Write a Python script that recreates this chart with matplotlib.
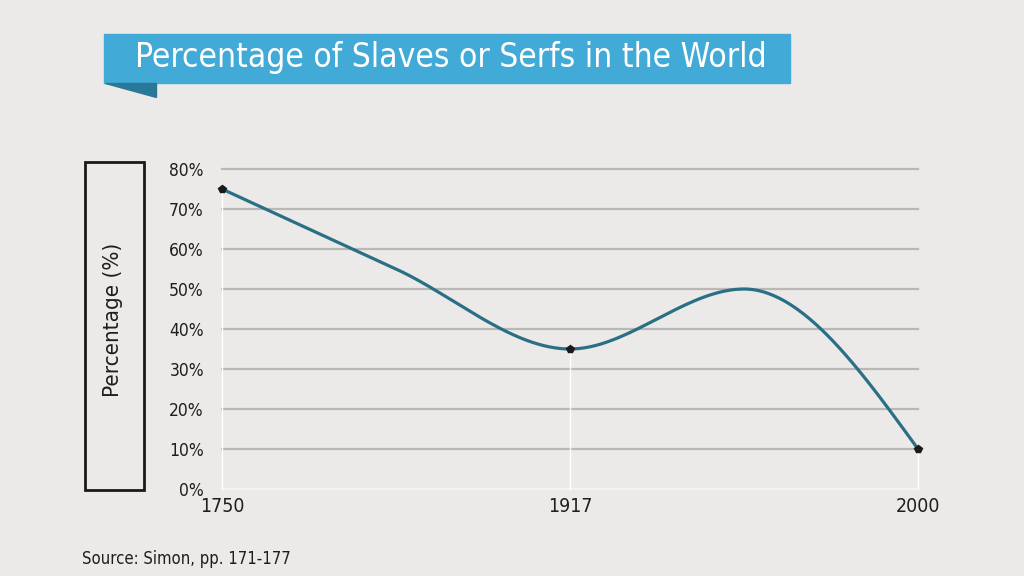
import numpy as np
import matplotlib
matplotlib.use("Agg")
import matplotlib.pyplot as plt
from matplotlib.patches import Rectangle, Polygon

# ---- data ----
years = ["1750", "", "1917", "", "2000"]          # "" = unlabeled intermediate knots
values = [75, 55, 35, 50, 10]                      # percent
shown = [True, False, True, False, True]
y_ticks = [0, 10, 20, 30, 40, 50, 60, 70, 80]
y_tick_labels = [f"{v}%" for v in y_ticks]
title = "Percentage of Slaves or Serfs in the World"
ylabel = "Percentage (%)"
source = "Source: Simon, pp. 171-177"

plt.rcParams["font.family"] = ["DejaVu Sans"]
plt.rcParams["font.stretch"] = "condensed"

BG = "#ebeae8"
LINE = "#2b6f86"
GRID = "#b9b8b6"
TXT = "#1e1e1e"


def monotone(x, y, n=60):
    x = np.asarray(x, float); y = np.asarray(y, float)
    h = np.diff(x); s = np.diff(y) / h
    m = np.zeros_like(y)
    for i in range(1, len(y) - 1):
        p = (s[i - 1] * h[i] + s[i] * h[i - 1]) / (h[i - 1] + h[i])
        m[i] = (np.sign(s[i - 1]) + np.sign(s[i])) * min(abs(s[i - 1]), abs(s[i]), 0.5 * abs(p))
    m[0] = (3 * s[0] - m[1]) / 2
    m[-1] = (3 * s[-1] - m[-2]) / 2
    xs, ys = [], []
    for i in range(len(h)):
        t = np.linspace(0, 1, n)
        h00 = 2 * t**3 - 3 * t**2 + 1
        h10 = t**3 - 2 * t**2 + t
        h01 = -2 * t**3 + 3 * t**2
        h11 = t**3 - t**2
        xs.append(x[i] + t * h[i])
        ys.append(h00 * y[i] + h10 * h[i] * m[i] + h01 * y[i + 1] + h11 * h[i] * m[i + 1])
    return np.concatenate(xs), np.concatenate(ys)


fig = plt.figure(figsize=(10.24, 5.76), dpi=100, facecolor=BG)
ax = fig.add_axes([222 / 1024, 1 - 489 / 576, (918 - 222) / 1024, (489 - 169) / 576])
ax.set_facecolor(BG)

pos = np.arange(len(values)) / 2.0
ax.set_xlim(pos[0], pos[-1])
ax.set_ylim(0, 80)

for yv in y_ticks[1:]:
    ax.axhline(yv, color=GRID, lw=1.6, zorder=1, clip_on=False)
ax.axhline(0, color="#f6f6f5", lw=1.2, zorder=1, clip_on=False)

sx, sy = monotone(pos, values)
ax.plot(sx, sy, color=LINE, lw=2.3, zorder=3, solid_capstyle="round")

for p, v, s in zip(pos, values, shown):
    if s:
        ax.plot([p, p], [0, v], color="white", lw=1.0, zorder=2, clip_on=False)
        ax.plot(p, v, marker="p", ms=5.5, color="#1a1a1a", zorder=4, clip_on=False)

for sp in ax.spines.values():
    sp.set_visible(False)

ax.set_xticks([p for p, s in zip(pos, shown) if s])
ax.set_xticklabels([yr for yr, s in zip(years, shown) if s], fontsize=14, color=TXT)
ax.set_yticks(y_ticks)
ax.set_yticklabels(y_tick_labels, fontsize=12.5, color=TXT)
ax.tick_params(axis="both", length=0)
ax.tick_params(axis="y", pad=13)
ax.tick_params(axis="x", pad=6)

# title banner
fig.patches.append(Rectangle((104 / 1024, 1 - 83 / 576), (790 - 104) / 1024, (83 - 34) / 576,
                             transform=fig.transFigure, color="#42aad6", zorder=0))
fig.patches.append(Polygon([(105 / 1024, 1 - 83 / 576), (156 / 1024, 1 - 83 / 576),
                            (156 / 1024, 1 - 97 / 576)], closed=True,
                           transform=fig.transFigure, color="#2a7898", zorder=0))
fig.text(451 / 1024, 1 - 58 / 576, title, color="white", fontsize=24,
         ha="center", va="center")

# y label box
fig.patches.append(Rectangle((85 / 1024, 1 - 490 / 576), (144 - 85) / 1024, (490 - 162) / 576,
                             transform=fig.transFigure, fill=False, ec="#1a1a1a", lw=2))
fig.text(113 / 1024, 1 - 320 / 576, ylabel, rotation=90, fontsize=16, color=TXT,
         ha="center", va="center")

fig.text(82 / 1024, 1 - 559 / 576, source, fontsize=12, color=TXT, ha="left", va="center")

fig.savefig("out.png", dpi=100, facecolor=BG)
